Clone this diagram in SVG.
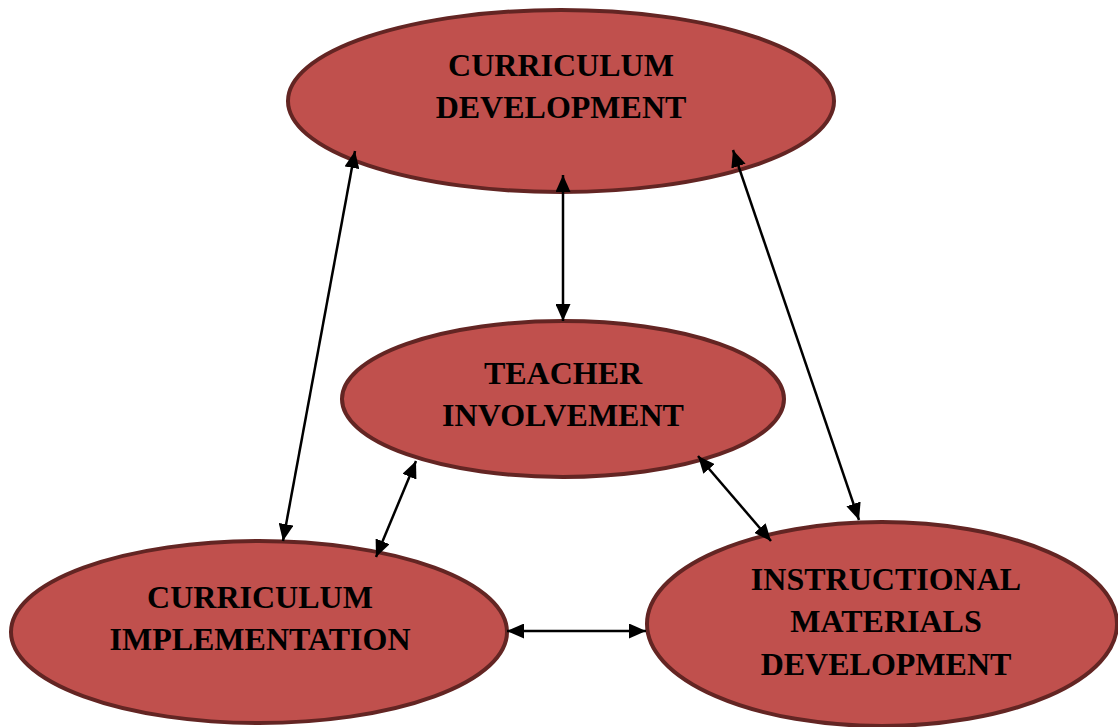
<svg xmlns="http://www.w3.org/2000/svg" width="1118" height="727" viewBox="0 0 1118 727">
<style>
.node{fill:#C0504D;stroke:#632523;stroke-width:4}
.lbl{font-family:"Liberation Serif","Times New Roman",serif;font-weight:bold;font-size:32px;fill:#000;text-anchor:middle}
.con{stroke:#000;stroke-width:2.5;fill:none;marker-start:url(#ah);marker-end:url(#ah)}
</style>
<defs>
<marker id="ah" viewBox="0 0 17 15" refX="17" refY="7.5" markerWidth="17" markerHeight="15" markerUnits="userSpaceOnUse" orient="auto-start-reverse">
<path d="M0,0 L17,7.5 L0,15 Z" fill="#000"/>
</marker>
</defs>
<rect width="1118" height="727" fill="#fff"/>
<g id="n-curriculum-development">
<ellipse class="node" cx="561" cy="101" rx="273" ry="91"/>
<text class="lbl" x="561" y="76">CURRICULUM</text>
<text class="lbl" x="561" y="118">DEVELOPMENT</text>
</g>
<g id="n-teacher-involvement">
<ellipse class="node" cx="563" cy="399" rx="221" ry="78"/>
<text class="lbl" x="563" y="384">TEACHER</text>
<text class="lbl" x="563" y="426">INVOLVEMENT</text>
</g>
<g id="n-curriculum-implementation">
<ellipse class="node" cx="259" cy="632" rx="248" ry="91"/>
<text class="lbl" x="260" y="608">CURRICULUM</text>
<text class="lbl" x="260" y="650">IMPLEMENTATION</text>
</g>
<g id="n-instructional-materials-development">
<ellipse class="node" cx="882" cy="624" rx="235" ry="102"/>
<text class="lbl" x="886" y="590">INSTRUCTIONAL</text>
<text class="lbl" x="886" y="632">MATERIALS</text>
<text class="lbl" x="886" y="675">DEVELOPMENT</text>
</g>
<g id="connectors">
<line class="con" x1="355" y1="151" x2="283" y2="541"/>
<line class="con" x1="563" y1="175" x2="563" y2="321"/>
<line class="con" x1="733" y1="150" x2="859" y2="520"/>
<line class="con" x1="416" y1="461" x2="376" y2="557"/>
<line class="con" x1="698" y1="456" x2="771" y2="541"/>
<line class="con" x1="507" y1="631" x2="646" y2="631"/>
</g>
</svg>
